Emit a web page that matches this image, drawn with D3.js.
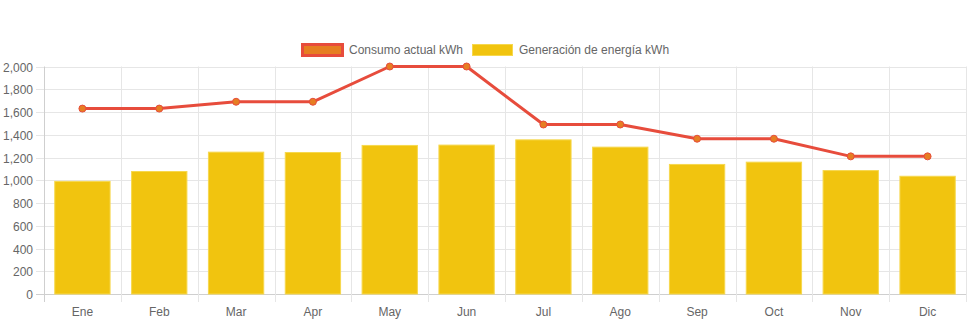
<!DOCTYPE html>
<html>
<head>
<meta charset="utf-8">
<script src="https://cdn.jsdelivr.net/npm/d3@7/dist/d3.min.js"></script>
<style>
  html, body { margin: 0; padding: 0; background: #fff; }
  svg { display: block; font-family: "Liberation Sans", Arial, Helvetica, sans-serif; }
</style>
</head>
<body>
<svg id="chart" width="971" height="323"></svg>
<script>
// Monthly energy data (kWh)
const months = ["Ene", "Feb", "Mar", "Apr", "May", "Jun", "Jul", "Ago", "Sep", "Oct", "Nov", "Dic"];
const consumo = [1630, 1630, 1690, 1690, 2000, 2000, 1490, 1490, 1365, 1365, 1210, 1210];
const generacion = [990, 1077, 1247, 1244, 1306, 1309, 1355, 1291, 1139, 1159, 1085, 1035];
const yTicks = [0, 200, 400, 600, 800, 1000, 1200, 1400, 1600, 1800, 2000];
const seriesNames = ["Consumo actual kWh", "Generación de energía kWh"];

const svg = d3.select("#chart");
const plotLeft = 44, plotRight = 966, plotTop = 66.5, plotBottom = 294;

const x = d3.scaleBand().domain(months).range([plotLeft, plotRight]).padding(0);
const y = d3.scaleLinear().domain([0, 2000]).range([plotBottom, plotTop]);
const fmt = d3.format(",");

// Horizontal grid lines + y tick labels
const gy = svg.append("g");
yTicks.forEach(t => {
  const py = Math.round(y(t)) + 0.5;
  gy.append("line")
    .attr("x1", plotLeft - 8).attr("x2", plotRight)
    .attr("y1", py).attr("y2", py)
    .attr("stroke", t === 0 ? "#cfcfcf" : "#e6e6e6").attr("stroke-width", 1);
  gy.append("text")
    .attr("x", 33).attr("y", py)
    .attr("dy", "0.35em")
    .attr("text-anchor", "end")
    .attr("font-size", 12).attr("fill", "#666")
    .text(fmt(t));
});

// Vertical grid lines at category boundaries
const bounds = months.map(m => x(m)).concat([plotRight]);
bounds.forEach((bx, i) => {
  const px = Math.round(bx) + 0.5;
  svg.append("line")
    .attr("x1", px).attr("x2", px)
    .attr("y1", plotTop).attr("y2", plotBottom + 8)
    .attr("stroke", i === 0 ? "#cfcfcf" : "#e6e6e6").attr("stroke-width", 1);
});

// Month labels
svg.append("g").selectAll("text").data(months).join("text")
  .attr("x", d => x(d) + x.bandwidth() / 2)
  .attr("y", 316)
  .attr("text-anchor", "middle")
  .attr("font-size", 12).attr("fill", "#666")
  .text(d => d);

// Generation bars
const barW = x.bandwidth() * 0.72;
svg.append("g").selectAll("rect").data(generacion).join("rect")
  .attr("x", (d, i) => x(months[i]) + (x.bandwidth() - barW) / 2)
  .attr("y", d => y(d))
  .attr("width", barW)
  .attr("height", d => y(0) - y(d))
  .attr("fill", "#f1c40f")
  .attr("stroke", "#f6d84e").attr("stroke-width", 1);

// Consumption line
const cx = (i) => x(months[i]) + x.bandwidth() / 2;
const line = d3.line().x((d, i) => cx(i)).y(d => y(d));
svg.append("path")
  .datum(consumo)
  .attr("d", line)
  .attr("fill", "none")
  .attr("stroke", "#e74c3c")
  .attr("stroke-width", 3)
  .attr("stroke-linejoin", "round");

svg.append("g").selectAll("circle").data(consumo).join("circle")
  .attr("cx", (d, i) => cx(i))
  .attr("cy", d => y(d))
  .attr("r", 3.5)
  .attr("fill", "#e67e22")
  .attr("stroke", "#e74c3c").attr("stroke-width", 1);

// Legend
const legend = svg.append("g");
legend.append("rect")
  .attr("x", 302.5).attr("y", 44.5).attr("width", 40).attr("height", 11)
  .attr("fill", "#e67e22").attr("stroke", "#e74c3c").attr("stroke-width", 3);
legend.append("text")
  .attr("x", 349).attr("y", 50).attr("dy", "0.35em")
  .attr("font-size", 12).attr("fill", "#666")
  .text(seriesNames[0]);
legend.append("rect")
  .attr("x", 472.5).attr("y", 44.5).attr("width", 40).attr("height", 11)
  .attr("fill", "#f1c40f").attr("stroke", "#f6d84e").attr("stroke-width", 1);
legend.append("text")
  .attr("x", 519).attr("y", 50).attr("dy", "0.35em")
  .attr("font-size", 12).attr("fill", "#666")
  .text(seriesNames[1]);
</script>
</body>
</html>
